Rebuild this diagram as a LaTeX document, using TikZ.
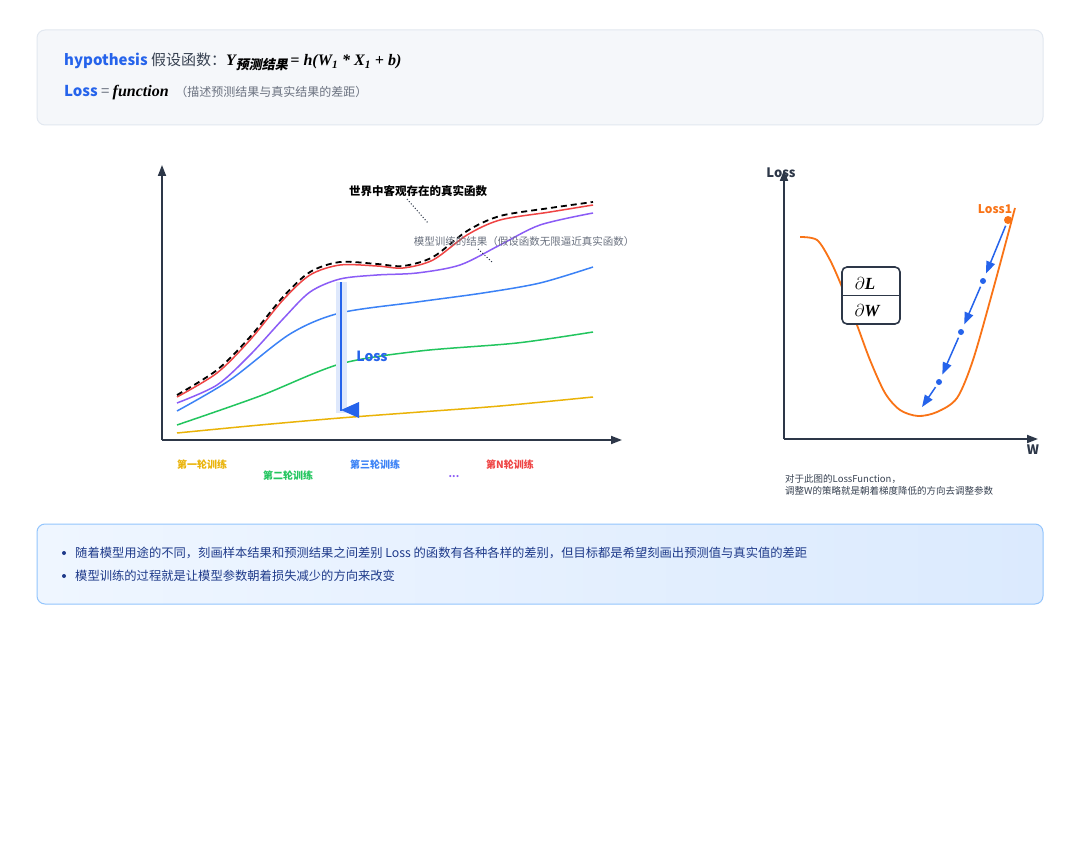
\documentclass[tikz,border=0pt]{standalone}
\usepackage{fontspec}
\setmainfont{Noto Sans CJK SC}
\newfontfamily\formulafont{Liberation Serif}
\newfontfamily\cjkslant[FakeSlant=0.2]{Noto Sans CJK SC}
\usetikzlibrary{arrows.meta}
\usetikzlibrary{positioning}
\definecolor{accent}{HTML}{2563EB}
\definecolor{topfill}{HTML}{F5F7FA}
\definecolor{topline}{HTML}{E2E8F0}
\definecolor{botleft}{HTML}{EFF6FF}
\definecolor{botright}{HTML}{DBEAFE}
\definecolor{botline}{HTML}{93C5FD}
\definecolor{navy}{HTML}{1E3A8A}
\definecolor{axiscol}{HTML}{2D3748}
\definecolor{textdark}{HTML}{374151}
\definecolor{textgray}{HTML}{6B7280}
\definecolor{curvered}{HTML}{EF4444}
\definecolor{curvepurple}{HTML}{8B5CF6}
\definecolor{curveblue}{HTML}{3B82F6}
\definecolor{curvegreen}{HTML}{22C55E}
\definecolor{curveyellow}{HTML}{EAB308}
\definecolor{curveorange}{HTML}{F97316}
\tikzset{
    axisline/.style={draw=axiscol,line width=1.8pt,-{Triangle[length=11pt,width=8pt]}},
    curve/.style={line width=1.5pt},
    leader/.style={draw=axiscol,dotted,line width=1pt},
    roundlabel/.style={font=\bfseries\fontsize{10}{12}\selectfont,inner sep=0},
    gdot/.style={circle,fill=accent,inner sep=0,minimum size=6pt},
    garrow/.style={draw=accent,line width=1.5pt,-{Triangle[length=12pt,width=9pt]}},
    bullet/.style={circle,fill=navy,inner sep=0,minimum size=4pt}
}
\begin{document}
\begin{tikzpicture}[x=1pt,y=-1pt]
    \useasboundingbox (0,0) rectangle (1080,864);
    \fill[white] (0,0) rectangle (1080,864);

    % top box
    \path[rounded corners=8pt,fill=topfill,draw=topline,line width=1pt] (37,30) rectangle (1043,125);
    \node[anchor=west,inner sep=0,font=\fontsize{15}{18}\selectfont] (hypo) at (64,62)
        {\textcolor{accent}{\bfseries hypothesis} \textcolor{textdark}{假设函数：}{\formulafont\bfseries\itshape\fontsize{16}{18}\selectfont Y}\raisebox{-4pt}{\cjkslant\bfseries\fontsize{13}{13}\selectfont 预测结果}{\formulafont\bfseries\itshape\fontsize{16}{18}\selectfont\,= h(W\textsubscript{1} * X\textsubscript{1} + b)}};
    \node[anchor=west,inner sep=0,font=\fontsize{15}{18}\selectfont] (lossdef) at (64,93)
        {\textcolor{accent}{\bfseries Loss} \textcolor{textgray}{=} {\formulafont\bfseries\itshape\fontsize{16}{18}\selectfont function}\ \ {\fontsize{12}{14}\selectfont\textcolor{textgray}{（描述预测结果与真实结果的差距）}}};

    % left chart
    \coordinate (lo) at (162,440);
    \coordinate (ly) at (162,165);
    \coordinate (lx) at (622,440);
    \draw[axisline] (lo) -- (ly);
    \draw[axisline] (lo) -- (lx);

    \draw[curve,curveyellow] plot[smooth] coordinates {(177,433) (260,425) (340,418) (420,412) (500,406) (593,397)};
    \draw[curve,curvegreen] plot[smooth] coordinates {(177,425) (260,396) (340,364) (420,351) (517,343) (593,332)};
    \draw[curve,curveblue] plot[smooth] coordinates {(177,411) (230,380) (290,334) (340,313) (417,302) (483,293) (540,283) (593,267)};
    \draw[curve,curvepurple] plot[smooth] coordinates {(177,403) (217,385) (250,355) (283,319) (310,292) (340,279) (377,275) (417,273) (460,265) (500,245) (540,225) (593,213)};
    \draw[curve,curvered] plot[smooth] coordinates {(177,397) (217,373) (250,340) (283,300) (310,275) (340,265) (377,266) (403,268) (433,260) (467,235) (500,220) (550,212) (593,205)};
    \draw[curve,black,dash pattern=on 6pt off 4pt,line width=1.8pt] plot[smooth] coordinates {(177,395) (217,370) (250,337) (283,297) (310,272) (340,262) (377,264) (403,266) (433,257) (467,231) (500,216) (550,208) (593,202)};

    % loss arrow
    \fill[accent!15] (336,282) rectangle (347,413);
    \draw[accent,line width=2.5pt] (341,282) -- (341,411);
    \fill[accent] (341,410) -- (359,402) -- (359,418) -- cycle;
    \node[text=accent,font=\bfseries\fontsize{14}{16}\selectfont,inner sep=0] (losstxt) at (372,356) {Loss};

    % annotations
    \node[font=\bfseries\fontsize{11.5}{13}\selectfont,inner sep=0] (truth) at (418,191) {世界中客观存在的真实函数};
    \coordinate (truthtail) at (407,199);
    \coordinate (truthhead) at (428,223);
    \draw[leader] (truthtail) -- (truthhead);
    \node[text=textgray,font=\fontsize{10.5}{12}\selectfont,inner sep=0] (fit) at (524,242) {模型训练的结果（假设函数无限逼近真实函数）};
    \coordinate (fittail) at (478,249);
    \coordinate (fithead) at (492,262);
    \draw[leader] (fittail) -- (fithead);

    % round labels
    \node[roundlabel,text=curveyellow] (r1) at (202,465) {第一轮训练};
    \node[roundlabel,text=curvegreen] (r2) at (288,476) {第二轮训练};
    \node[roundlabel,text=curveblue] (r3) at (375,465) {第三轮训练};
    \node[roundlabel,text=curvepurple] (rdots) at (454,477) {...};
    \node[roundlabel,text=curvered] (rn) at (510,465) {第N轮训练};

    % right chart
    \coordinate (ro) at (784,439);
    \coordinate (ry) at (784,170);
    \coordinate (rx) at (1038,439);
    \draw[axisline] (ro) -- (ry);
    \draw[axisline] (ro) -- (rx);
    \node[font=\bfseries\fontsize{13}{15}\selectfont,text=axiscol,inner sep=0] (ylab) at (781,173) {Loss};
    \node[font=\bfseries\fontsize{13}{15}\selectfont,text=axiscol,inner sep=0] (xlab) at (1033,450) {W};

    \draw[curve,curveorange,line width=1.8pt] plot[smooth] coordinates {(800,237) (817,240) (830,260) (842,287) (857,325) (870,360) (885,393) (900,410) (918,416) (937,412) (957,398) (973,360) (993,290) (1015,208)};

    \node[draw=axiscol,fill=white,line width=1.6pt,rounded corners=5pt,minimum width=58pt,minimum height=57pt,inner sep=0] (grad) at (871,295.5) {};
    \draw[axiscol,line width=1.4pt] (grad.west) -- (grad.east);
    \node[font=\formulafont\bfseries\itshape\fontsize{17}{18}\selectfont,inner sep=0] (dl) at (865,283) {$\partial$L};
    \node[font=\formulafont\bfseries\itshape\fontsize{17}{18}\selectfont,inner sep=0] (dw) at (867,311) {$\partial$W};

    \node[circle,fill=curveorange,inner sep=0,minimum size=8pt] (loss1) at (1008,220) {};
    \node[text=curveorange,font=\bfseries\fontsize{12}{14}\selectfont,inner sep=0] (loss1txt) at (995,209) {Loss1};

    \node[gdot] (g1) at (983,281) {};
    \node[gdot] (g2) at (961,332) {};
    \node[gdot] (g3) at (939,382) {};
    \coordinate (g4) at (922,407);
    \draw[garrow,shorten <=2pt,shorten >=5pt] (loss1) -- (g1);
    \draw[garrow,shorten <=3pt,shorten >=5pt] (g1) -- (g2);
    \draw[garrow,shorten <=3pt,shorten >=5pt] (g2) -- (g3);
    \draw[garrow,shorten <=3pt] (g3) -- (g4);

    \node[anchor=north west,align=left,text=textdark,font=\fontsize{9.5}{12.5}\selectfont,inner sep=0] (note) at (785,474)
        {对于此图的LossFunction，\\调整W的策略就是朝着梯度降低的方向去调整参数};

    % bottom box
    \path[rounded corners=8pt,left color=botleft,right color=botright,draw=botline,line width=1pt] (37,524) rectangle (1043,604);
    \node[bullet] (b1) at (64,553) {};
    \node[bullet] (b2) at (64,576) {};
    \node[anchor=west,text=navy,font=\fontsize{12.3}{14}\selectfont,inner sep=0] (t1) at (75,553)
        {随着模型用途的不同，刻画样本结果和预测结果之间差别 Loss 的函数有各种各样的差别，但目标都是希望刻画出预测值与真实值的差距};
    \node[anchor=west,text=navy,font=\fontsize{12.3}{14}\selectfont,inner sep=0] (t2) at (75,576)
        {模型训练的过程就是让模型参数朝着损失减少的方向来改变};
\end{tikzpicture}
\end{document}
